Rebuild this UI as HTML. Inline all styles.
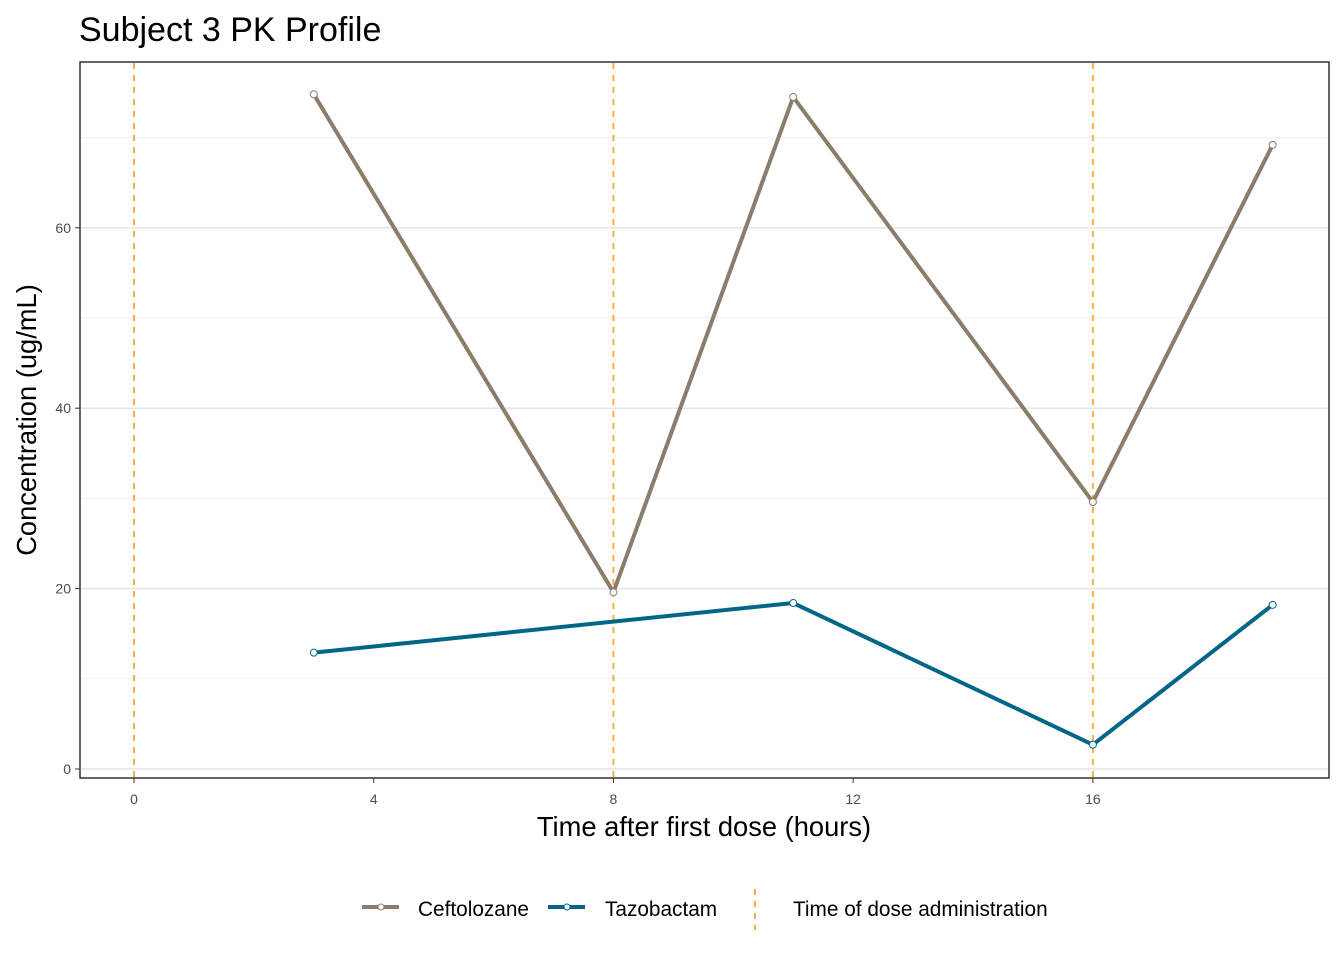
<!DOCTYPE html>
<html><head><meta charset="utf-8"><style>
body{margin:0;background:#fff;font-family:"Liberation Sans",Arial,sans-serif}
</style></head><body>
<svg id="c" width="1344" height="960" xmlns="http://www.w3.org/2000/svg">
<text x="79" y="41" font-size="34" fill="#000">Subject 3 PK Profile</text>
<rect x="80" y="62" width="1249" height="716" fill="#fff" stroke="#333" stroke-width="1.5"/>
<g id="grid"></g><g id="doses"></g><g id="series"></g><g id="axes"></g>
<text x="704" y="836" font-size="27.3" text-anchor="middle">Time after first dose (hours)</text>
<text transform="translate(36,420) rotate(-90)" font-size="27.3" text-anchor="middle">Concentration (ug/mL)</text>
<g>
<g>
<line x1="362" y1="907" x2="399" y2="907" stroke="#8b7d6b" stroke-width="4"/><circle cx="381" cy="907" r="3" fill="#fff" stroke="#8b7d6b"/>
<text x="418" y="916" font-size="20.8">Ceftolozane</text></g>
<g>
<line x1="548" y1="907" x2="585" y2="907" stroke="#006687" stroke-width="4"/><circle cx="567" cy="907" r="3" fill="#fff" stroke="#006687"/>
<text x="605" y="916" font-size="20.8">Tazobactam</text></g>
<g>
<line x1="755" y1="889" x2="755" y2="930" stroke="#f5b041" stroke-width="2" stroke-dasharray="6,6"/>
<text x="793" y="916" font-size="20.8">Time of dose administration</text></g>
</g>
</svg>
<script>
const times=[3,8,11,16,19];
const ceftolozane=[74.8,19.6,74.5,29.6,69.2];
const tazobactamTimes=[3,11,16,19];
const tazobactam=[12.9,18.4,2.7,18.2];
const doseTimes=[0,8,16];
const xTicks=[0,4,8,12,16];
const yTicks=[0,20,40,60];
const yMinor=[10,30,50,70];
const NS="http://www.w3.org/2000/svg";
const X=v=>134+v*59.93, Y=v=>769-v*9.02;
function mk(t,a,p){const e=document.createElementNS(NS,t);for(const k in a)e.setAttribute(k,a[k]);document.getElementById(p).appendChild(e);return e;}
yMinor.forEach(v=>{const l=mk('line',{x1:81,x2:1328,y1:Y(v),y2:Y(v),stroke:'#f0f0f0','stroke-width':1},'grid');

});
yTicks.forEach(v=>{const l=mk('line',{x1:81,x2:1328,y1:Y(v),y2:Y(v),stroke:'#e5e5e5','stroke-width':1.5},'grid');


const tk=mk('line',{x1:75,x2:80,y1:Y(v),y2:Y(v),stroke:'#333'},'axes');


const t=mk('text',{x:71,y:Y(v)+5,'font-size':14,fill:'#4d4d4d','text-anchor':'end'},'axes');t.textContent=v;

});
xTicks.forEach(v=>{const tk=mk('line',{x1:X(v),x2:X(v),y1:778,y2:783,stroke:'#333'},'axes');


const t=mk('text',{x:X(v),y:804,'font-size':14,fill:'#4d4d4d','text-anchor':'middle'},'axes');t.textContent=v;

});
doseTimes.forEach(v=>{const l=mk('line',{x1:X(v),x2:X(v),y1:63,y2:777,stroke:'#f5b041','stroke-width':2,'stroke-dasharray':'6,6'},'doses');

});
function series(xs,ys,col,name){
const p=mk('polyline',{points:xs.map((x,i)=>X(x)+','+Y(ys[i])).join(' '),fill:'none',stroke:col,'stroke-width':4,'stroke-linejoin':'round'},'series');


xs.forEach((x,i)=>{const c=mk('circle',{cx:X(x),cy:Y(ys[i]),r:3.5,fill:'#fff',stroke:col,'stroke-width':1},'series');

});}
series(times,ceftolozane,'#8b7d6b','ceftolozane');
series(tazobactamTimes,tazobactam,'#006687','tazobactam');
</script>
</body></html>
